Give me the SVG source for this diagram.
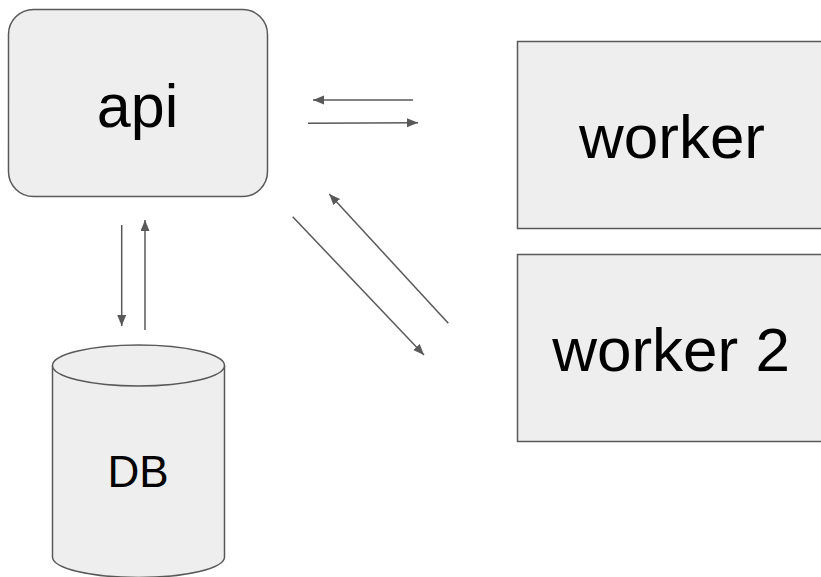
<svg xmlns="http://www.w3.org/2000/svg" width="821" height="577" viewBox="0 0 821 577">
<style>
.box{fill:#eeeeee;stroke:#595959;stroke-width:1.5}
.lbl{font-family:"Liberation Sans",Arial,sans-serif;fill:#000;text-anchor:middle}
.conn{stroke:#595959;stroke-width:1.5;fill:none;marker-end:url(#ah)}
</style>
<defs>
<marker id="ah" markerUnits="userSpaceOnUse" markerWidth="12" markerHeight="10" refX="11" refY="4.5" orient="auto">
<path d="M0,0 L11,4.5 L0,9 Z" fill="#595959"/>
</marker>
</defs>
<rect width="821" height="577" fill="#fff"/>
<g id="api">
<rect class="box" x="8.5" y="9.5" width="259" height="187" rx="25" ry="25"/>
<text class="lbl" x="137.5" y="127" font-size="61">api</text>
</g>
<g id="worker">
<rect class="box" x="517.5" y="41.5" width="320" height="187"/>
<text class="lbl" x="672" y="158" font-size="62">worker</text>
</g>
<g id="worker2">
<rect class="box" x="517.5" y="254.5" width="320" height="187"/>
<text class="lbl" x="671" y="371" font-size="62">worker 2</text>
</g>
<g id="db">
<path class="box" d="M52.5,365.5 L52.5,557 A86,20.5 0 0 0 224.5,557 L224.5,365.5"/>
<ellipse class="box" cx="138.5" cy="365.5" rx="86" ry="20.5" fill="#f3f3f3"/>
<text class="lbl" x="138" y="487" font-size="44">DB</text>
</g>
<g id="connectors">
<line class="conn" x1="413" y1="100" x2="313" y2="100"/>
<line class="conn" x1="308" y1="123.3" x2="418" y2="122.7"/>
<line class="conn" x1="121.7" y1="225" x2="121.7" y2="326"/>
<line class="conn" x1="145" y1="330" x2="145" y2="220"/>
<line class="conn" x1="292.7" y1="216.7" x2="424" y2="355"/>
<line class="conn" x1="448.3" y1="323.3" x2="329.3" y2="194"/>
</g>
</svg>
